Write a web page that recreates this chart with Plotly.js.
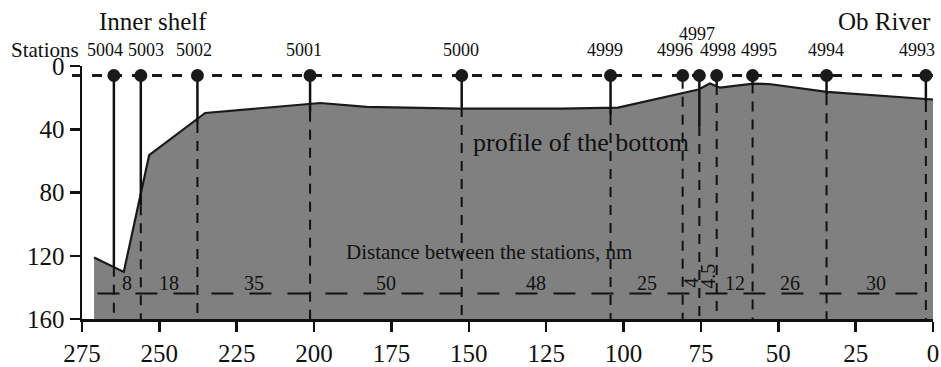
<!DOCTYPE html>
<html><head><meta charset="utf-8">
<script src="https://cdn.plot.ly/plotly-3.0.1.min.js"></script>
<style>html,body{margin:0;padding:0;background:#fff;} #chart{width:941px;height:367px;}</style>
</head><body><div id="chart"></div>
<script>
// ---- data ----
const stations     = ['5004','5003','5002','5001','5000','4999','4996','4997','4998','4995','4994','4993'];
const stationDist  = [264.7, 256.0, 237.7, 201.3, 152.3, 104.2, 80.9, 75.5, 69.9, 58.3, 34.4, 2.3];
const solidEnd     = [127, 88, 36, 29, 26, 31, 8, 38, 12, 11, 18.5, 22.7];   // depth where solid station line ends
const gapDist      = ['8','18','35','50','48','25','4','4.5','12','26','30']; // nm between neighbouring stations
const profileDist  = [271.1, 261.5, 253.3, 235.2, 198, 183, 152.9, 120, 101.8, 75.8, 72.1, 68.8, 58, 53, 34.3, 0];
const profileDepth = [121.1, 130.2, 56.4, 29.7, 23.4, 25.9, 27, 27, 26.3, 14.9, 11.1, 13.7, 11.1, 11.4, 16.4, 21.2];
const xTicks = [275, 250, 225, 200, 175, 150, 125, 100, 75, 50, 25, 0];
const yTicks = [0, 40, 80, 120, 160];
const surfaceDepth = 6;       // depth of the station dots / surface line
const distLineDepth = 143.8;  // depth of the distance dashed line
const distLineStart = 270;
const depthMax = 160, distMax = 275;

// ---- build traces ----
const FONT = 'Liberation Serif, Times New Roman, serif';
const INK = '#111111';
const traces = [];

// bottom fill
traces.push({
  x: profileDist.concat([profileDist[profileDist.length-1], profileDist[0]]),
  y: profileDepth.concat([depthMax, depthMax]),
  mode: 'lines', fill: 'toself', fillcolor: '#808080',
  line: {width: 0, color: 'rgba(0,0,0,0)'}, hoverinfo: 'skip', showlegend: false
});
// bottom outline
traces.push({
  x: profileDist, y: profileDepth, mode: 'lines',
  line: {color: '#1a1a1a', width: 2.2}, hoverinfo: 'skip', showlegend: false
});
// distance dashed line
traces.push({
  x: [distLineStart, 0], y: [distLineDepth, distLineDepth], mode: 'lines',
  line: {color: INK, width: 2, dash: '22px,16px'}, hoverinfo: 'skip', showlegend: false
});
// station lines: solid from the surface, dashed below
const dx = [], dy = [], sx = [], sy = [];
stationDist.forEach((d, i) => {
  dx.push(d, d, null); dy.push(solidEnd[i], depthMax, null);
  sx.push(d, d, null); sy.push(surfaceDepth, solidEnd[i], null);
});
traces.push({x: dx, y: dy, mode: 'lines', line: {color: INK, width: 2, dash: '10px,8px'}, hoverinfo: 'skip', showlegend: false});
traces.push({x: sx, y: sy, mode: 'lines', line: {color: INK, width: 2.5}, hoverinfo: 'skip', showlegend: false});
// station dots
traces.push({
  x: stationDist, y: stationDist.map(() => surfaceDepth), mode: 'markers',
  marker: {size: 13, color: '#1a1a1a'}, cliponaxis: false, hoverinfo: 'skip', showlegend: false
});

// ---- annotations ----
const plotTop = 66, plotH = 253, plotW = 851, plotL = 82;
const py = p => (plotTop + plotH - p) / plotH;   // pixel row -> paper y
const px = p => (p - plotL) / plotW;             // pixel col -> paper x
const ann = [];
const labelXShift = [-9, 5, -3, -6, -1, -6, -8, -2, 1, 6, -1, -9];
stations.forEach((s, i) => {
  ann.push({
    x: stationDist[i], xref: 'x', xanchor: 'center',
    y: py(s === '4997' ? 33.5 : 50), yref: 'paper', yanchor: 'middle',
    text: s, showarrow: false, xshift: labelXShift[i],
    font: {family: FONT, size: 18, color: INK}
  });
});
gapDist.forEach((g, i) => {
  const rot = (g === '4' || g === '4.5');
  ann.push({
    x: (stationDist[i] + stationDist[i+1]) / 2, y: 137, xref: 'x', yref: 'y',
    xanchor: 'center', yanchor: 'middle',
    text: g, showarrow: false, textangle: rot ? -90 : 0,
    yshift: g === '4.5' ? 6 : 0,
    font: {family: FONT, size: 20, color: INK}
  });
});
ann.push({x: px(9), xref: 'paper', xanchor: 'left', y: py(50), yref: 'paper', yanchor: 'middle',
  text: 'Stations', showarrow: false, font: {family: FONT, size: 21, color: INK}});
ann.push({x: px(97), xref: 'paper', xanchor: 'left', y: py(22), yref: 'paper', yanchor: 'middle',
  text: 'Inner shelf', showarrow: false, font: {family: FONT, size: 25, color: INK}});
ann.push({x: 1, xref: 'paper', xanchor: 'right', y: py(22), yref: 'paper', yanchor: 'middle',
  text: 'Ob River', showarrow: false, font: {family: FONT, size: 25, color: INK}});
ann.push({x: 113.6, xref: 'x', xanchor: 'center', y: 48.2, yref: 'y', yanchor: 'middle',
  text: 'profile of the bottom', showarrow: false, font: {family: FONT, size: 26, color: INK}});
ann.push({x: 143.6, xref: 'x', xanchor: 'center', y: 117.8, yref: 'y', yanchor: 'middle',
  text: 'Distance between the stations, nm', showarrow: false, font: {family: FONT, size: 21, color: INK}});

const surfPaper = 1 - surfaceDepth / depthMax;
const layout = {
  width: 941, height: 367,
  margin: {l: plotL, r: 8, t: plotTop, b: 48, pad: 0},
  paper_bgcolor: '#ffffff', plot_bgcolor: '#ffffff',
  showlegend: false,
  font: {family: FONT, color: INK},
  xaxis: {
    range: [distMax, 0], tickmode: 'array', tickvals: xTicks, ticktext: xTicks.map(String),
    showgrid: false, zeroline: false, showline: true, linecolor: INK, linewidth: 2.5,
    ticks: 'outside', ticklen: 10, tickwidth: 2.5, tickcolor: INK,
    tickfont: {family: FONT, size: 25, color: INK}
  },
  yaxis: {
    range: [depthMax, 0], tickmode: 'array', tickvals: yTicks, ticktext: yTicks.map(String),
    showgrid: false, zeroline: false, showline: true, linecolor: INK, linewidth: 2.5,
    ticks: 'outside', ticklen: 10, tickwidth: 2.5, tickcolor: INK,
    tickfont: {family: FONT, size: 25, color: INK}
  },
  shapes: [{
    type: 'line', xref: 'paper', yref: 'paper', x0: -10/plotW, x1: 1, y0: surfPaper, y1: surfPaper,
    line: {color: '#1a1a1a', width: 3, dash: '10px,10px'}, layer: 'below'
  }],
  annotations: ann
};
Plotly.newPlot('chart', traces, layout, {displayModeBar: false, staticPlot: true});
</script></body></html>
